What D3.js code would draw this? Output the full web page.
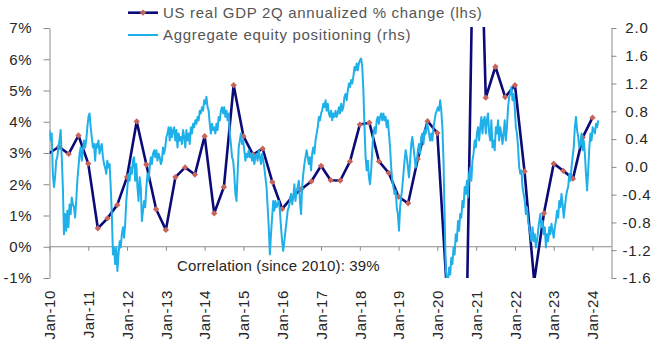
<!DOCTYPE html>
<html><head><meta charset="utf-8">
<script src="https://cdn.jsdelivr.net/npm/d3@7"></script>
<style>
html,body{margin:0;padding:0;background:#fff;}
svg{display:block;font-family:"Liberation Sans",Arial,sans-serif;}
</style></head><body>
<svg id="chart" width="659" height="352"></svg>
<script>
// ---------- data ----------
const xTickLabels = ["Jan-10","Jan-11","Jan-12","Jan-13","Jan-14","Jan-15","Jan-16","Jan-17","Jan-18","Jan-19","Jan-20","Jan-21","Jan-22","Jan-23","Jan-24"];
const leftTicks = [-1,0,1,2,3,4,5,6,7];
const rightTicks = [-1.6,-1.2,-0.8,-0.4,0.0,0.4,0.8,1.2,1.6,2.0];
const legendLabels = ["US real GDP 2Q annualized % change (lhs)","Aggregate equity positioning (rhs)"];
const correlationLabel = "Correlation (since 2010): 39%";

// quarterly, first quarter = Jan-2010
const gdpStart = "2010-01-01";
const gdpValues = [3.0,3.2,2.97,3.56,2.66,0.59,0.91,1.34,2.23,4.01,2.63,1.2,0.54,2.23,2.54,2.31,
  3.54,1.07,1.91,5.17,3.54,2.95,3.14,2.07,1.21,1.58,1.85,2.09,2.59,2.13,2.12,2.73,
  3.91,3.97,2.73,2.36,1.6,1.39,2.81,4.02,3.64,-1.5,-3.0,-2.8,16.0,4.77,5.76,4.79,
  5.17,2.41,-1.1,1.07,2.66,2.43,2.18,3.5,4.13];

// evenly spaced observations from eqStart to eqEnd
const eqStart = "2010-01-01", eqEnd = "2024-02-24";
const eqValues = [
0.53,0.38,0.48,-0.10,-0.29,-0.15,0.09,0.14,0.28,0.38,0.53,0.14,-0.29,-0.97,-0.68,-0.92,-0.63,-0.87,-0.54,-0.68,-0.44,-0.54,-0.58,-0.73,-0.49,-0.20,-0.01,0.19,0.28,0.09,0.24,0.38,0.28,0.38,0.57,0.72,0.77,0.57,0.43,0.28,0.33,0.09,0.33,0.28,0.38,0.19,0.28,0.33,0.14,0.04,-0.01,-0.10,0.09,-0.01,0.04,-0.29,-0.68,-1.26,-1.16,-1.40,-1.16,-1.50,-1.26,-1.07,-1.16,-0.97,-0.87,-1.02,-0.82,-0.49,-0.29,-0.10,-0.20,-0.01,-0.10,0.09,0.14,-0.20,0.04,-0.29,-0.49,-0.15,-0.29,-0.78,-0.63,-0.49,-0.58,
-0.29,-0.10,-0.20,-0.01,0.14,0.04,0.19,0.24,0.14,0.24,0.09,0.19,0.14,0.04,0.09,0.28,0.19,0.28,0.43,0.48,0.57,0.38,0.57,0.43,0.53,0.57,0.38,0.53,0.28,0.48,0.38,0.43,0.33,0.53,0.43,0.28,0.53,0.38,0.48,0.33,0.57,0.48,0.62,0.57,0.67,0.62,0.72,0.67,0.81,0.77,0.86,0.81,0.96,0.91,1.01,0.86,0.81,0.62,0.48,0.62,0.53,0.57,0.48,0.62,0.53,0.72,0.67,0.81,0.86,0.77,0.86,0.72,0.81,0.67,0.77,0.48,0.33,0.14,0.09,-0.10,-0.39,-0.49,-0.10,0.28,0.38,0.48,0.33,0.38,0.24,
0.09,0.19,0.14,0.24,0.14,0.19,0.09,0.19,0.04,0.14,0.19,0.09,0.24,0.14,0.04,0.19,0.09,-0.01,-0.15,-0.29,-0.58,-0.87,-1.26,-0.97,-0.73,-0.49,-0.63,-0.49,-0.58,-0.54,-0.49,-0.63,-0.87,-1.07,-1.21,-1.07,-0.92,-0.78,-0.63,-0.58,-0.49,-0.39,-0.54,-0.44,-0.25,-0.49,-0.34,-0.29,-0.20,-0.49,-0.68,-0.29,-0.10,0.04,0.14,0.24,0.14,0.04,0.14,-0.05,0.19,0.28,0.19,0.38,0.48,0.57,0.72,0.67,0.77,0.81,0.91,0.86,0.96,0.81,0.91,0.77,0.72,0.81,0.67,0.77,0.72,0.81,0.72,0.77,0.86,0.77,0.91,0.81,0.86,
1.01,1.05,0.96,1.10,1.20,1.15,1.25,1.20,1.30,1.44,1.39,1.49,1.39,1.49,1.54,1.56,1.44,1.10,0.57,0.14,-0.05,0.09,-0.15,-0.25,-0.05,0.24,0.48,0.57,0.48,0.67,0.72,0.62,0.72,0.77,0.67,0.77,0.67,0.72,0.57,0.67,0.48,0.28,-0.01,-0.20,-0.29,-0.39,-0.34,-0.58,-0.68,-0.92,-0.58,-0.44,-0.29,-0.10,0.09,0.24,0.14,-0.01,-0.15,0.09,0.33,0.43,0.28,0.14,-0.01,0.09,0.24,0.33,0.19,0.43,0.48,0.33,0.53,0.48,0.62,0.57,0.48,0.38,0.48,0.38,0.57,0.67,0.77,0.81,0.86,0.81,0.96,0.81,0.57,0.09,-0.73,-1.45,
-1.65,-1.65,-1.45,-1.55,-1.31,-1.40,-1.16,-1.26,-0.97,-1.07,-0.78,-0.92,-0.68,-0.73,-0.49,-0.58,-0.29,-0.39,-0.20,-0.44,-0.10,-0.01,-0.20,0.09,0.19,0.38,0.28,0.48,0.57,0.38,0.57,0.72,0.48,0.67,0.72,0.48,0.67,0.77,0.48,0.38,0.67,0.28,0.38,0.24,0.57,0.48,0.67,0.38,0.57,0.48,0.33,0.48,0.67,0.38,0.57,0.86,1.01,1.05,1.15,0.96,1.05,0.86,0.57,0.48,0.28,-0.01,-0.10,-0.05,-0.29,-0.39,-0.49,-0.68,-0.58,-0.78,-0.87,-0.97,-1.07,-0.87,-1.07,-0.97,-1.16,-1.07,-0.92,-0.78,-0.68,-0.87,-0.78,-0.97,-0.87,
-1.16,-0.97,-1.07,-0.87,-0.97,-0.82,-0.92,-1.02,-0.87,-0.78,-0.63,-0.73,-0.49,-0.58,-0.39,-0.54,-0.73,-0.58,-0.44,-0.34,-0.29,-0.10,-0.20,-0.01,0.14,0.28,0.57,0.72,0.53,0.43,0.28,0.33,0.48,0.24,0.38,0.19,-0.10,-0.34,-0.05,0.28,0.48,0.38,0.57,0.53,0.48,0.62,0.57,0.67
];

// ---------- styles ----------
const NAVY = "#0b0b78", BLUE = "#1fb0ea", MARK = "#c8645a", AXIS = "#8a8a8a";
const L = 49.5, R = 611.5, T = 28, B = 278;

const svg = d3.select("#chart");
const x = d3.scaleTime().domain([new Date(2010,0,1), new Date(2024,5,28)]).range([L, R]);
const yL = d3.scaleLinear().domain([-1,7]).range([B, T]);
const yR = d3.scaleLinear().domain([-1.6,2.0]).range([B, T]);

const gdpData = gdpValues.map((v,i) => { const d = new Date(gdpStart); return {date: new Date(d.getFullYear(), d.getMonth() + 3*i, 1), v}; });
const t0 = new Date(eqStart).getTime(), t1 = new Date(eqEnd).getTime();
const eqData = eqValues.map((v,i) => ({date: new Date(t0 + (t1 - t0) * i / (eqValues.length - 1)), v}));

svg.append("defs").append("clipPath").attr("id","plot").append("rect")
  .attr("x", L).attr("y", T - 1).attr("width", R - L).attr("height", B - T + 1);

// axes
const styleAxis = g => { g.selectAll("path.domain").attr("stroke", AXIS); g.selectAll(".tick line").attr("stroke", AXIS); };

const gl = svg.append("g").attr("transform", `translate(${L},0)`)
  .call(d3.axisLeft(yL).tickValues(leftTicks).tickSize(6).tickSizeOuter(0).tickPadding(11).tickFormat(d => d + "%"));
styleAxis(gl);
gl.selectAll("text").attr("font-size", 15).attr("fill", "#262626").attr("letter-spacing", "0.8px").attr("font-family", "Liberation Sans, Arial, sans-serif");

const gr = svg.append("g").attr("transform", `translate(${R},0)`)
  .call(d3.axisRight(yR).tickValues(rightTicks).tickSize(5).tickSizeOuter(0).tickFormat(d => d.toFixed(1)));
styleAxis(gr);
gr.selectAll("text").attr("font-size", 15).attr("fill", "#262626").attr("letter-spacing", "0.8px")
  .attr("text-anchor", "middle").attr("x", 25.5).attr("font-family", "Liberation Sans, Arial, sans-serif");

const janDates = xTickLabels.map((s,i) => new Date(2010 + i, 0, 1));
const gx = svg.append("g").attr("transform", `translate(0,${yL(0)})`)
  .call(d3.axisBottom(x).tickValues(janDates).tickSize(4).tickSizeOuter(0).tickFormat((d,i) => xTickLabels[i]));
styleAxis(gx);
gx.select("path.domain").attr("d", `M${L},0H${R}`);
gx.selectAll("text").attr("font-size", 15).attr("fill", "#262626").attr("letter-spacing", "0.6px")
  .attr("font-family", "Liberation Sans, Arial, sans-serif")
  .attr("transform", "rotate(-90)").attr("text-anchor", "end")
  .attr("x", -(290 - yL(0))).attr("y", 0).attr("dy", "0.35em");

// series
const plot = svg.append("g").attr("clip-path", "url(#plot)");
plot.append("path").datum(gdpData)
  .attr("fill", "none").attr("stroke", NAVY).attr("stroke-width", 2.6).attr("stroke-linejoin", "round")
  .attr("d", d3.line().x(d => x(d.date)).y(d => yL(d.v)));
const diamond = d3.symbol(d3.symbolSquare, 20);
plot.selectAll("path.mk").data(gdpData.slice(1)).join("path").attr("class","mk")
  .attr("d", diamond).attr("fill", MARK)
  .attr("transform", d => `translate(${x(d.date)},${yL(d.v)}) rotate(45)`);
plot.append("path").datum(eqData)
  .attr("fill", "none").attr("stroke", BLUE).attr("stroke-width", 2).attr("stroke-linejoin", "round")
  .attr("d", d3.line().x(d => x(d.date)).y(d => yR(d.v)));

// legend
const lg = svg.append("g");
lg.append("line").attr("x1",128).attr("x2",158).attr("y1",12.7).attr("y2",12.7).attr("stroke",NAVY).attr("stroke-width",2.6);
lg.append("path").attr("d", diamond).attr("fill", MARK).attr("transform","translate(143,12.7) rotate(45)");
lg.append("line").attr("x1",128).attr("x2",158).attr("y1",35).attr("y2",35).attr("stroke",BLUE).attr("stroke-width",2);
lg.selectAll("text").data(legendLabels).join("text")
  .attr("x",163).attr("y",(d,i)=> i ? 40.3 : 18).attr("font-size",15).attr("letter-spacing","0.7px")
  .attr("fill","#555").text(d=>d);

svg.append("text").attr("x",177).attr("y",270.5).attr("font-size",15).attr("letter-spacing","0.15px")
  .attr("fill","#262626").text(correlationLabel);
</script>
</body></html>
